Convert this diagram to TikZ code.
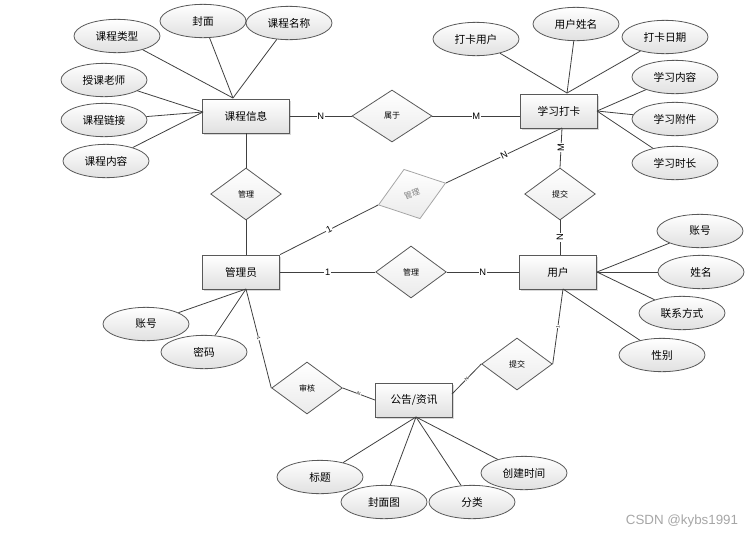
\documentclass[tikz,border=0pt]{standalone}
\usepackage{fontspec}
\setmainfont{Liberation Sans}
\newfontfamily\cjk{Noto Sans CJK SC}
\usetikzlibrary{shapes.geometric,shadows}

\begin{document}
\begin{tikzpicture}[x=0.75pt, y=-0.75pt, font=\cjk,
    line/.style = {draw=black!75, line width=0.6pt},
    entity/.style = {draw=black!65, line width=0.6pt, top color=white, bottom color=black!12,
      drop shadow={shadow xshift=1.2pt, shadow yshift=-1.2pt, fill=black!30},
      minimum width=58pt, minimum height=25.5pt, inner sep=1pt, font=\cjk\fontsize{8}{10}\selectfont},
    attr/.style = {ellipse, draw=black!65, line width=0.6pt, top color=white, bottom color=black!12,
      minimum width=64.5pt, minimum height=25pt, inner sep=0pt, font=\cjk\fontsize{8}{10}\selectfont},
    rel/.style = {diamond, draw=black!65, line width=0.6pt, top color=white, bottom color=black!8,
      minimum width=53pt, minimum height=39pt, inner sep=0pt, font=\cjk\fontsize{6}{7}\selectfont},
    card/.style = {fill=white, inner sep=0.5pt, font=\fontsize{7}{8}\selectfont},
    tinycard/.style = {fill=white, inner sep=0.2pt, sloped, font=\fontsize{3.5}{4}\selectfont}]
    \useasboundingbox (0,0) rectangle (753,536);

    % entities
    \node[entity, minimum width=65pt] (kcxx) at (246,116) {课程信息};
    \node[entity] (xxdk) at (559,111) {学习打卡};
    \node[entity] (gly) at (241,272) {管理员};
    \node[entity] (yh) at (558,272) {用户};
    \node[entity] (gg) at (414,400) {公告/资讯};

    % relations
    \node[rel, minimum width=60pt] (sy) at (392,116) {属于};
    \node[rel] (gl1) at (246,194) {管理};
    \node[rel, draw=black!35, text=black!50, rotate=18] (gl2) at (412,194) {管理};
    \node[rel] (tj1) at (560,194) {提交};
    \node[rel] (gl3) at (411,272) {管理};
    \node[rel] (tj2) at (517,364) {提交};
    \node[rel] (sh) at (307,388) {审核};

    % attributes
    \node[attr] (kclx) at (117,36) {课程类型};
    \node[attr] (fm) at (203,21) {封面};
    \node[attr] (kcmc) at (289,23) {课程名称};
    \node[attr] (skls) at (104,80) {授课老师};
    \node[attr] (kclj) at (104,120) {课程链接};
    \node[attr] (kcnr) at (106,161) {课程内容};

    \node[attr] (dkyh) at (476,39) {打卡用户};
    \node[attr] (yhxm) at (576,24) {用户姓名};
    \node[attr] (dkrq) at (665,37) {打卡日期};
    \node[attr] (xxnr) at (675,77) {学习内容};
    \node[attr] (xxfj) at (675,119) {学习附件};
    \node[attr] (xxsc) at (675,163) {学习时长};

    \node[attr] (yhzh) at (700,231) {账号};
    \node[attr] (xm) at (701,272) {姓名};
    \node[attr] (lxfs) at (682,313) {联系方式};
    \node[attr] (xb) at (662,355) {性别};

    \node[attr] (glzh) at (146,324) {账号};
    \node[attr] (mm) at (204,352) {密码};

    \node[attr] (bt) at (320,477) {标题};
    \node[attr] (fmt) at (384,502) {封面图};
    \node[attr] (fl) at (472,502) {分类};
    \node[attr] (cjsj) at (524,473) {创建时间};

    \node[text=black!35, font=\fontsize{10}{12}\selectfont] (wm) at (682,521) {CSDN @kybs1991};

    % attach points
    \coordinate (kcT) at (233,98);
    \coordinate (kcL) at (203,112);
    \coordinate (dkT) at (567,93);
    \coordinate (dkR) at (597,111);
    \coordinate (dkB) at (562,128);
    \coordinate (yhR) at (597,272);
    \coordinate (yhB) at (563,289);
    \coordinate (glyB) at (246,289);
    \coordinate (ggB) at (416,417);
    \coordinate (ggR) at (452,394);

    % attribute lines
    \foreach \a in {kclx,fm,kcmc} \draw[line] (\a) -- (kcT);
    \foreach \a in {skls,kclj,kcnr} \draw[line] (\a) -- (kcL);
    \foreach \a in {dkyh,yhxm,dkrq} \draw[line] (\a) -- (dkT);
    \foreach \a in {xxnr,xxfj,xxsc} \draw[line] (\a) -- (dkR);
    \foreach \a in {yhzh,xm,lxfs} \draw[line] (\a) -- (yhR);
    \draw[line] (xb) -- (yhB);
    \foreach \a in {glzh,mm} \draw[line] (\a) -- (glyB);
    \foreach \a in {bt,fmt,fl,cjsj} \draw[line] (\a) -- (ggB);

    % relation lines
    \draw[line] (kcxx.east) -- node[card] {N} (sy.west);
    \draw[line] (sy.east) -- node[card] {M} (sy -| xxdk.west);
    \draw[line] (kcxx.south) -- (gl1.north);
    \draw[line] (gl1.south) -- (gl1.south |- gly.north);
    \draw[line] (gly.north east) -- node[card, sloped] {1} (gl2.west);
    \draw[line] (gl2.east) -- node[card, sloped] {N} (dkB);
    \draw[line] (dkB) -- node[card, rotate=90] {M} (tj1.north);
    \draw[line] (tj1.south) -- node[card, rotate=90] {N} (tj1.south |- yh.north);
    \draw[line] (gly.east) -- node[card] {1} (gl3.west);
    \draw[line] (gl3.east) -- node[card] {N} (yh.west);
    \draw[line] (glyB) -- node[tinycard] {1} (sh.west);
    \draw[line] (sh.east) -- node[tinycard] {N} (gg.west);
    \draw[line] (tj2.west) -- node[tinycard] {N} (ggR);
    \draw[line] (yhB) -- node[tinycard] {1} (tj2.east);
\end{tikzpicture}
\end{document}
